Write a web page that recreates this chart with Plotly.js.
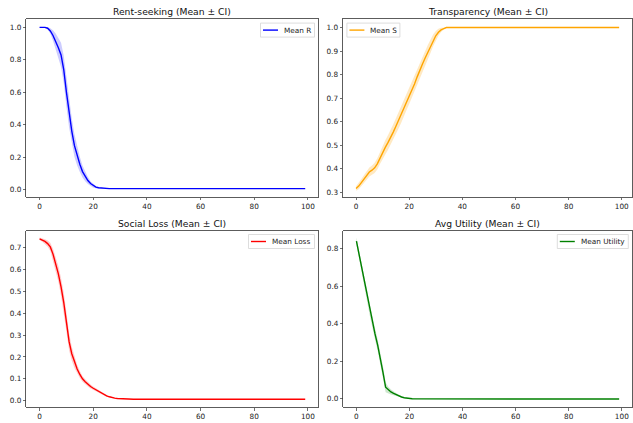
<!DOCTYPE html>
<html>
<head>
<meta charset="utf-8">
<script src="https://cdn.plot.ly/plotly-3.0.1.min.js"></script>
<style>html,body{margin:0;padding:0;background:#fff;}#chart{width:633px;height:423px;}</style>
</head>
<body>
<div id="chart"></div>
<script>
// Time steps (dense where the curves change, sparse on the flat tail)
const steps = [0,1,2,3,4,5,6,7,8,9,10,11,12,13,14,15,16,17,18,19,20,21,22,23,24,25,26,27,28,29,30,31,32,33,34,35,40,50,60,70,80,90,99];

// Rent-seeking: mean R and CI half-width
const meanR = [1.0,1.0,1.0,0.995,0.978,0.95,0.915,0.875,0.83,0.74,0.6,0.47,0.36,0.27,0.205,0.155,0.11,0.078,0.055,0.036,0.022,0.014,0.01,0.008,0.006,0.005,0.005,0.005,0.005,0.005,0.005,0.005,0.005,0.005,0.005,0.005,0.005,0.005,0.005,0.005,0.005,0.005,0.005];
const ciR   = [0.002,0.002,0.003,0.006,0.016,0.032,0.048,0.062,0.075,0.085,0.09,0.088,0.08,0.07,0.058,0.047,0.037,0.028,0.021,0.015,0.011,0.007,0.005,0.003,0.002,0.001,0.001,0.001,0.001,0.001,0.001,0.001,0.001,0.001,0.001,0.001,0,0,0,0,0,0,0];

// Transparency: mean S and CI half-width
const meanS = [0.315,0.325,0.34,0.355,0.37,0.385,0.393,0.403,0.42,0.445,0.47,0.49,0.51,0.53,0.555,0.58,0.605,0.63,0.655,0.685,0.71,0.735,0.76,0.79,0.82,0.845,0.87,0.895,0.92,0.945,0.965,0.98,0.99,0.995,1.0,1.0,1.0,1.0,1.0,1.0,1.0,1.0,1.0];
const ciS   = [0.01,0.013,0.015,0.017,0.018,0.019,0.02,0.022,0.024,0.026,0.028,0.03,0.031,0.032,0.033,0.034,0.035,0.035,0.036,0.036,0.036,0.036,0.036,0.036,0.035,0.034,0.033,0.031,0.028,0.025,0.02,0.015,0.009,0.004,0.001,0,0,0,0,0,0,0,0];

// Social loss: mean loss and CI half-width
const meanL = [0.74,0.735,0.728,0.718,0.703,0.67,0.625,0.58,0.52,0.45,0.36,0.27,0.215,0.175,0.145,0.12,0.1,0.087,0.075,0.065,0.057,0.05,0.042,0.035,0.028,0.022,0.018,0.014,0.012,0.01,0.009,0.008,0.008,0.007,0.007,0.007,0.007,0.007,0.007,0.007,0.007,0.007,0.007];
const ciL   = [0.006,0.008,0.01,0.014,0.019,0.025,0.031,0.036,0.041,0.045,0.045,0.04,0.032,0.025,0.02,0.016,0.013,0.011,0.01,0.009,0.008,0.007,0.006,0.005,0.004,0.004,0.003,0.002,0.002,0.001,0.001,0.001,0.001,0.001,0.001,0.001,0,0,0,0,0,0,0];

// Avg utility: mean utility and CI half-width
const meanU = [0.84,0.77,0.69,0.625,0.55,0.475,0.405,0.345,0.285,0.22,0.14,0.06,0.045,0.035,0.027,0.02,0.013,0.008,0.004,0.001,0.0,-0.001,-0.002,-0.002,-0.003,-0.003,-0.003,-0.003,-0.003,-0.003,-0.003,-0.003,-0.003,-0.003,-0.003,-0.003,-0.003,-0.003,-0.003,-0.003,-0.003,-0.003,-0.003];
const ciU   = [0.02,0.024,0.026,0.028,0.03,0.03,0.03,0.03,0.03,0.031,0.032,0.026,0.018,0.013,0.01,0.008,0.006,0.004,0.003,0.002,0.002,0.001,0.001,0.001,0.001,0.001,0.001,0.001,0.001,0.001,0.001,0.001,0.001,0.001,0.001,0.001,0,0,0,0,0,0,0];

const titles = ['Rent-seeking (Mean ± CI)','Transparency (Mean ± CI)','Social Loss (Mean ± CI)','Avg Utility (Mean ± CI)'];
const names  = ['Mean R','Mean S','Mean Loss','Mean Utility'];
const xTicks = [0,20,40,60,80,100];

const series = [
  {m: meanR, c: ciR, col: '#0000ff', fill: 'rgba(0,0,255,0.2)'},
  {m: meanS, c: ciS, col: '#ffa500', fill: 'rgba(255,165,0,0.24)'},
  {m: meanL, c: ciL, col: '#ff0000', fill: 'rgba(255,0,0,0.2)'},
  {m: meanU, c: ciU, col: '#008000', fill: 'rgba(0,128,0,0.2)'}
];

const FONT = 'DejaVu Sans, sans-serif';
const W = 633, H = 423;
// panel boxes in pixels [left, right, top, bottom]
const boxes = [
  [26.3, 318.5, 19.3, 196.7],
  [342.9, 632.3, 19.3, 196.7],
  [26.3, 318.5, 230.7, 407.3],
  [343.3, 632.3, 230.7, 407.3]
];
const yRanges = [[-0.045, 1.05],[0.28, 1.035],[-0.030, 0.777],[-0.047, 0.896]];
const yTickVals = [[0,0.2,0.4,0.6,0.8,1.0],[0.3,0.4,0.5,0.6,0.7,0.8,0.9,1.0],[0,0.1,0.2,0.3,0.4,0.5,0.6,0.7],[0,0.2,0.4,0.6,0.8]];
// legend box widths (px) and side
const legW = [54, 53, 66, 71];
const legLeft = [false, true, false, false];

const traces = [];
const layout = {
  width: W, height: H,
  margin: {l:0, r:0, t:0, b:0},
  paper_bgcolor: '#ffffff', plot_bgcolor: '#ffffff',
  font: {family: FONT, size: 7.3, color: '#222'},
  annotations: [], shapes: [],
  showlegend: false
};
const px = v => v / W, py = v => 1 - v / H;

series.forEach((s, i) => {
  const k = i + 1;
  const xa = 'x' + (k === 1 ? '' : k), ya = 'y' + (k === 1 ? '' : k);
  const lower = s.m.map((v, j) => v - s.c[j]);
  const upper = s.m.map((v, j) => v + s.c[j]);
  const bandX = steps.concat(steps.slice().reverse());
  const bandY = upper.concat(lower.slice().reverse());
  traces.push({x: bandX, y: bandY, xaxis: xa, yaxis: ya, mode: 'lines', line: {width: 0, color: s.fill}, fill: 'toself', fillcolor: s.fill, showlegend: false, hoverinfo: 'skip', name: names[i] + ' CI'});
  traces.push({x: steps, y: s.m, xaxis: xa, yaxis: ya, mode: 'lines', line: {width: 1.4, color: s.col}, name: names[i]});

  const b = boxes[i];
  const common = {
    showgrid: false, zeroline: false, showline: true, mirror: true, linecolor: '#333', linewidth: 0.8,
    ticks: 'outside', ticklen: 2.6, tickwidth: 0.7, tickcolor: '#333',
    tickfont: {family: FONT, size: 7.3, color: '#222'}
  };
  layout['xaxis' + (k === 1 ? '' : k)] = Object.assign({
    domain: [px(b[0]), px(b[1])], range: [-4.95, 103.95], anchor: ya,
    tickvals: xTicks, ticktext: xTicks.map(String)
  }, common);
  layout['yaxis' + (k === 1 ? '' : k)] = Object.assign({
    domain: [py(b[3]), py(b[2])], range: yRanges[i], anchor: xa,
    tickvals: yTickVals[i], ticktext: yTickVals[i].map(v => v.toFixed(1))
  }, common);

  // title
  layout.annotations.push({
    text: titles[i], xref: 'paper', yref: 'paper',
    x: px((b[0] + b[1]) / 2), y: py(b[2] - 7.4),
    xanchor: 'center', yanchor: 'middle', showarrow: false,
    font: {family: FONT, size: 9.2, color: '#111'}
  });

  // legend box (drawn like matplotlib's)
  const lw = legW[i];
  const lx0 = legLeft[i] ? b[0] + 4 : b[1] - 4 - lw;
  const lx1 = lx0 + lw;
  const ly0 = b[2] + 3.8, ly1 = ly0 + 14;
  const lyc = (ly0 + ly1) / 2;
  layout.shapes.push({type: 'rect', xref: 'paper', yref: 'paper', x0: px(lx0), x1: px(lx1), y0: py(ly1), y1: py(ly0),
    line: {color: '#d4d4d4', width: 0.8}, fillcolor: 'rgba(255,255,255,0.8)', layer: 'above'});
  layout.shapes.push({type: 'line', xref: 'paper', yref: 'paper', x0: px(lx0 + 2.5), x1: px(lx0 + 17.5), y0: py(lyc), y1: py(lyc),
    line: {color: s.col, width: 1.4}, layer: 'above'});
  layout.annotations.push({
    text: names[i], xref: 'paper', yref: 'paper', x: px(lx0 + 22.5), y: py(lyc),
    xanchor: 'left', yanchor: 'middle', showarrow: false, borderpad: 0,
    font: {family: FONT, size: 7.3, color: '#222'}
  });
});

Plotly.newPlot('chart', traces, layout, {displayModeBar: false, staticPlot: true});
</script>
</body>
</html>
